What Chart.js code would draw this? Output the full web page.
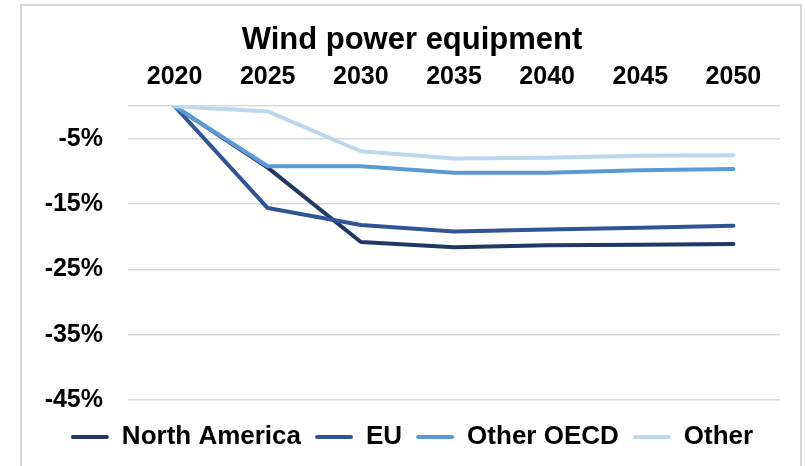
<!DOCTYPE html>
<html>
<head>
<meta charset="utf-8">
<script src="https://cdn.jsdelivr.net/npm/chart.js@4"></script>
<style>
  html, body { margin: 0; padding: 0; background: #fff; overflow: hidden; }
  #frame {
    position: absolute; left: 20px; top: 4px;
    width: 778px; height: 600px;
    border: 2px solid #d9d9d9;
  }
  #chartBox { position: relative; width: 778px; height: 460px; }
</style>
</head>
<body>
<div id="frame">
  <div id="chartBox"><canvas id="windChart"></canvas></div>
</div>
<script>
// Wind power equipment - cost change vs 2020 (%)
const years = ['2020', '2025', '2030', '2035', '2040', '2045', '2050'];
const northAmerica = [0, -9.4, -20.8, -21.6, -21.3, -21.2, -21.1];
const eu = [0, -15.6, -18.2, -19.2, -18.9, -18.6, -18.3];
const otherOecd = [0, -9.2, -9.2, -10.2, -10.2, -9.8, -9.6];
const other = [0, -0.8, -6.9, -8.0, -7.9, -7.6, -7.5];
const yTicks = [-45, -35, -25, -15, -5, 0];

const FONT = 'Liberation Sans, Arial, sans-serif';

function lineSet(label, data, color, order) {
    return {
        label: label,
        data: data,
        borderColor: color,
        backgroundColor: color,
        borderWidth: 4,
        pointRadius: 0,
        tension: 0,
        borderCapStyle: 'round',
        borderJoinStyle: 'round',
        order: order
    };
}

const ctx = document.getElementById('windChart').getContext('2d');
const windChart = new Chart(ctx, {
    type: 'line',
    data: {
        labels: years,
        datasets: [
            lineSet('North America', northAmerica, '#203864', 4),
            lineSet('EU', eu, '#2f5597', 3),
            lineSet('Other OECD', otherOecd, '#5b9bd5', 2),
            lineSet('Other', other, '#bdd7ee', 1)
        ]
    },
    options: {
        responsive: true,
        maintainAspectRatio: false,
        animation: false,
        layout: {
            padding: { left: 22, right: 20, top: 0, bottom: 6 }
        },
        scales: {
            x: {
                position: 'top',
                offset: true,
                grid: { display: false, drawTicks: false },
                border: { display: false },
                afterFit: axis => { axis.height = 47; },
                ticks: {
                    color: '#000',
                    padding: 14,
                    font: { family: FONT, size: 25, weight: 'bold' }
                }
            },
            y: {
                min: -45,
                max: 0,
                afterBuildTicks: axis => {
                    axis.ticks = yTicks.map(v => ({ value: v }));
                },
                afterFit: axis => { axis.width = 84; },
                grid: { color: '#d9d9d9', lineWidth: 1.5, drawTicks: false },
                border: { display: false },
                ticks: {
                    color: '#000',
                    padding: 25,
                    font: { family: FONT, size: 25, weight: 'bold' },
                    callback: v => (v === 0 ? '' : v + '%')
                }
            }
        },
        plugins: {
            title: {
                display: true,
                text: 'Wind power equipment',
                color: '#000',
                font: { family: FONT, size: 31, weight: 'bold' },
                padding: { top: 16, bottom: 0 }
            },
            legend: {
                position: 'bottom',
                title: { display: true, text: ' ', padding: 0, font: { size: 8.3 } },
                labels: {
                    color: '#000',
                    boxWidth: 38,
                    boxHeight: 4,
                    padding: 14,
                    useBorderRadius: true,
                    borderRadius: 2,
                    font: { family: FONT, size: 26, weight: 'bold' },
                    sort: (a, b) => a.datasetIndex - b.datasetIndex,
                    generateLabels: chart => {
                        const items = Chart.defaults.plugins.legend.labels.generateLabels(chart);
                        items.forEach(item => { item.lineWidth = 0; });
                        return items;
                    }
                }
            },
            tooltip: { enabled: false }
        }
    }
});
</script>
</body>
</html>
